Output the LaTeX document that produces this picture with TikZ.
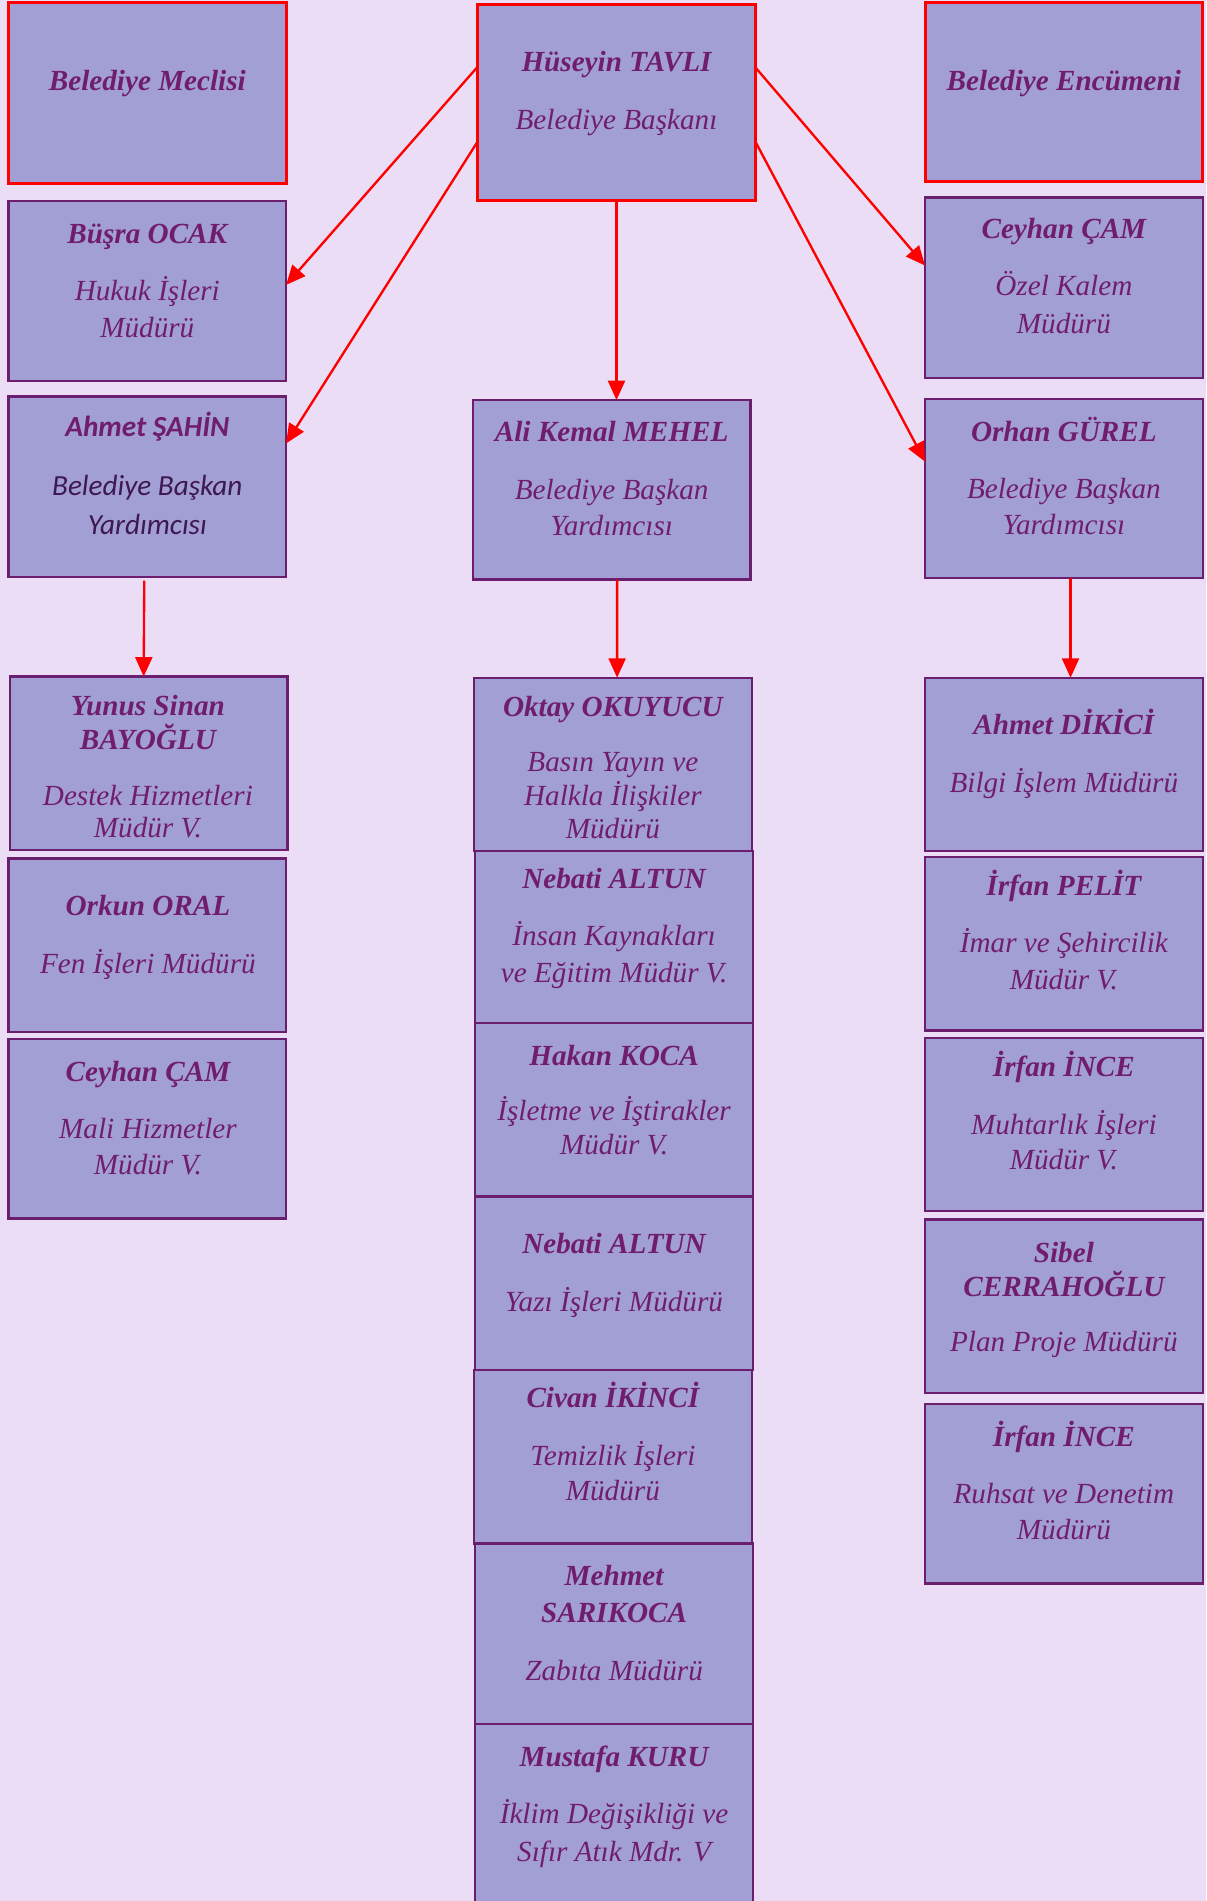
\documentclass[tikz,border=0pt]{standalone}
\usepackage{fontspec}
\setmainfont{Liberation Serif}
\newfontfamily\calfont{Carlito}
\usetikzlibrary{arrows.meta,calc}
\definecolor{bgc}{RGB}{234,221,245}
\definecolor{boxc}{RGB}{162,159,212}
\definecolor{bordc}{RGB}{108,30,110}
\definecolor{txtc}{RGB}{112,30,108}
\definecolor{darktxt}{RGB}{62,24,80}
\definecolor{redc}{RGB}{255,0,0}
\newcommand{\obox}[6]{\node[#6, minimum width={(#4-#2)*0.02cm}, minimum height={(#5-#3)*0.02cm}] (#1) at ({(#2+#4)/2},{(#3+#5)/2}) {};}
\newcommand{\tl}[5]{\node[#4] (#1) at (#2,{#3+8}) {#5};}
\begin{document}
\begin{tikzpicture}[x=0.02cm,y=-0.02cm,
  box/.style={draw=bordc, fill=boxc, line width=1.1pt, inner sep=0pt, outer sep=0pt, rectangle},
  redbox/.style={draw=redc, fill=boxc, line width=1.4pt, inner sep=0pt, outer sep=0pt, rectangle},
  nm/.style={font=\fontsize{13.7}{16}\selectfont\bfseries\itshape, text=txtc, anchor=base, inner sep=0pt},
  tt/.style={font=\fontsize{13.7}{17}\selectfont\itshape, text=txtc, anchor=base, inner sep=0pt},
  cnm/.style={font=\fontsize{13.7}{16}\selectfont\calfont\bfseries\itshape, text=txtc, anchor=base, inner sep=0pt},
  ctt/.style={font=\fontsize{13.7}{17}\selectfont\calfont\itshape, text=darktxt, anchor=base, inner sep=0pt},
  arr/.style={draw=redc, line width=1.1pt, -{Triangle[length=0.32cm,width=0.28cm]}}]
\useasboundingbox (0,0) rectangle (995,1568);
\clip (0,0) rectangle (995,1568);
\fill[bgc] (0,0) rectangle (995,1568);

% boxes
\obox{meclis}{7}{2}{236}{151}{redbox}
\obox{tavli}{394}{4}{623}{165}{redbox}
\obox{encumen}{763}{2}{992}{150}{redbox}
\obox{busra}{7}{166}{236}{314}{box}
\obox{ceyhan}{763}{163}{992}{312}{box}
\obox{sahin}{7}{327}{236}{476}{box}
\obox{mehel}{390}{330}{619}{478}{box}
\obox{orhan}{763}{329}{992}{477}{box}
\obox{yunus}{8}{558}{237}{701}{box}
\obox{oktay}{391}{559}{620}{702}{box}
\obox{dikici}{763}{559}{992}{702}{box}
\obox{orkun}{7}{708}{236}{851}{box}
\obox{nebati}{392}{702}{621}{844}{box}
\obox{pelit}{763}{707}{992}{850}{box}
\obox{ceyhanb}{7}{857}{236}{1005}{box}
\obox{koca}{392}{844}{621}{987}{box}
\obox{incea}{763}{856}{992}{999}{box}
\obox{nebatib}{392}{987}{621}{1130}{box}
\obox{sibel}{763}{1006}{992}{1149}{box}
\obox{civan}{391}{1130}{620}{1273}{box}
\obox{inceb}{763}{1158}{992}{1306}{box}
\obox{mehmet}{392}{1273}{621}{1422}{box}
\obox{mustafa}{392}{1422}{621}{1590}{box}

% texts
\tl{t1}{121.5}{67}{nm}{Belediye Meclisi}
\tl{t2a}{508.5}{51}{nm}{Hüseyin TAVLI}
\tl{t2b}{508.5}{99}{tt}{Belediye Başkanı}
\tl{t3}{877.5}{67}{nm}{Belediye Encümeni}
\tl{t4a}{121.5}{193}{nm}{Büşra OCAK}
\tl{t4b}{121.5}{240}{tt}{Hukuk İşleri}
\tl{t4c}{121.5}{270}{tt}{Müdürü}
\tl{t5a}{877.5}{189}{nm}{Ceyhan ÇAM}
\tl{t5b}{877.5}{236}{tt}{Özel Kalem}
\tl{t5c}{877.5}{267}{tt}{Müdürü}
\tl{t6a}{121.5}{352}{cnm}{Ahmet ŞAHİN}
\tl{t6b}{121.5}{401}{ctt}{Belediye Başkan}
\tl{t6c}{121.5}{433}{ctt}{Yardımcısı}
\tl{t7a}{504.5}{356}{nm}{Ali Kemal MEHEL}
\tl{t7b}{504.5}{404}{tt}{Belediye Başkan}
\tl{t7c}{504.5}{434}{tt}{Yardımcısı}
\tl{t8a}{877.5}{356}{nm}{Orhan GÜREL}
\tl{t8b}{877.5}{403}{tt}{Belediye Başkan}
\tl{t8c}{877.5}{433}{tt}{Yardımcısı}
\tl{t9a}{122}{582}{nm}{Yunus Sinan}
\tl{t9b}{122}{610}{nm}{BAYOĞLU}
\tl{t9c}{122}{656}{tt}{Destek Hizmetleri}
\tl{t9d}{122}{683}{tt}{Müdür V.}
\tl{t10a}{505.5}{583}{nm}{Oktay OKUYUCU}
\tl{t10b}{505.5}{628}{tt}{Basın Yayın ve}
\tl{t10c}{505.5}{656}{tt}{Halkla İlişkiler}
\tl{t10d}{505.5}{684}{tt}{Müdürü}
\tl{t11a}{877.5}{598}{nm}{Ahmet DİKİCİ}
\tl{t11b}{877.5}{646}{tt}{Bilgi İşlem Müdürü}
\tl{t12a}{122}{747}{nm}{Orkun ORAL}
\tl{t12b}{122}{795}{tt}{Fen İşleri Müdürü}
\tl{t13a}{506.5}{725}{nm}{Nebati ALTUN}
\tl{t13b}{506.5}{772}{tt}{İnsan Kaynakları}
\tl{t13c}{506.5}{802}{tt}{ve Eğitim Müdür V.}
\tl{t14a}{877.5}{731}{nm}{İrfan PELİT}
\tl{t14b}{877.5}{778}{tt}{İmar ve Şehircilik}
\tl{t14c}{877.5}{808}{tt}{Müdür V.}
\tl{t15a}{122}{884}{nm}{Ceyhan ÇAM}
\tl{t15b}{122}{931}{tt}{Mali Hizmetler}
\tl{t15c}{122}{961}{tt}{Müdür V.}
\tl{t16a}{506.5}{871}{nm}{Hakan KOCA}
\tl{t16b}{506.5}{916}{tt}{İşletme ve İştirakler}
\tl{t16c}{506.5}{944}{tt}{Müdür V.}
\tl{t17a}{877.5}{880}{nm}{İrfan İNCE}
\tl{t17b}{877.5}{928}{tt}{Muhtarlık İşleri}
\tl{t17c}{877.5}{957}{tt}{Müdür V.}
\tl{t18a}{506.5}{1026}{nm}{Nebati ALTUN}
\tl{t18b}{506.5}{1074}{tt}{Yazı İşleri Müdürü}
\tl{t19a}{877.5}{1033}{nm}{Sibel}
\tl{t19b}{877.5}{1061}{nm}{CERRAHOĞLU}
\tl{t19c}{877.5}{1107}{tt}{Plan Proje Müdürü}
\tl{t20a}{505.5}{1153}{nm}{Civan İKİNCİ}
\tl{t20b}{505.5}{1201}{tt}{Temizlik İşleri}
\tl{t20c}{505.5}{1230}{tt}{Müdürü}
\tl{t21a}{877.5}{1185}{nm}{İrfan İNCE}
\tl{t21b}{877.5}{1232}{tt}{Ruhsat ve Denetim}
\tl{t21c}{877.5}{1262}{tt}{Müdürü}
\tl{t22a}{506.5}{1300}{nm}{Mehmet}
\tl{t22b}{506.5}{1330}{nm}{SARIKOCA}
\tl{t22c}{506.5}{1378}{tt}{Zabıta Müdürü}
\tl{t23a}{506.5}{1449}{nm}{Mustafa KURU}
\tl{t23b}{506.5}{1496}{tt}{İklim Değişikliği ve}
\tl{t23c}{506.5}{1527}{tt}{Sıfır Atık Mdr. V}

% connectors
\draw[arr] ($(tavli.north west)!0.317!(tavli.south west)$) -- ($(busra.north east)!0.466!(busra.south east)$);
\draw[arr] ($(tavli.north west)!0.70!(tavli.south west)$) -- ($(sahin.north east)!0.26!(sahin.south east)$);
\draw[arr] (tavli.south) -- (tavli.south |- mehel.north);
\draw[arr] ($(tavli.north east)!0.32!(tavli.south east)$) -- ($(ceyhan.north west)!0.376!(ceyhan.south west)$);
\draw[arr] ($(tavli.north east)!0.70!(tavli.south east)$) -- ($(orhan.north west)!0.35!(orhan.south west)$);
\draw[arr] ([xshift=-0.05cm,yshift=-0.06cm]sahin.south) -- ([xshift=-0.08cm]yunus.north);
\draw[arr] ([xshift=0.09cm]mehel.south) -- ([xshift=0.07cm]oktay.north);
\draw[arr] ([xshift=0.11cm]orhan.south) -- ([xshift=0.11cm]dikici.north);
\end{tikzpicture}
\end{document}
